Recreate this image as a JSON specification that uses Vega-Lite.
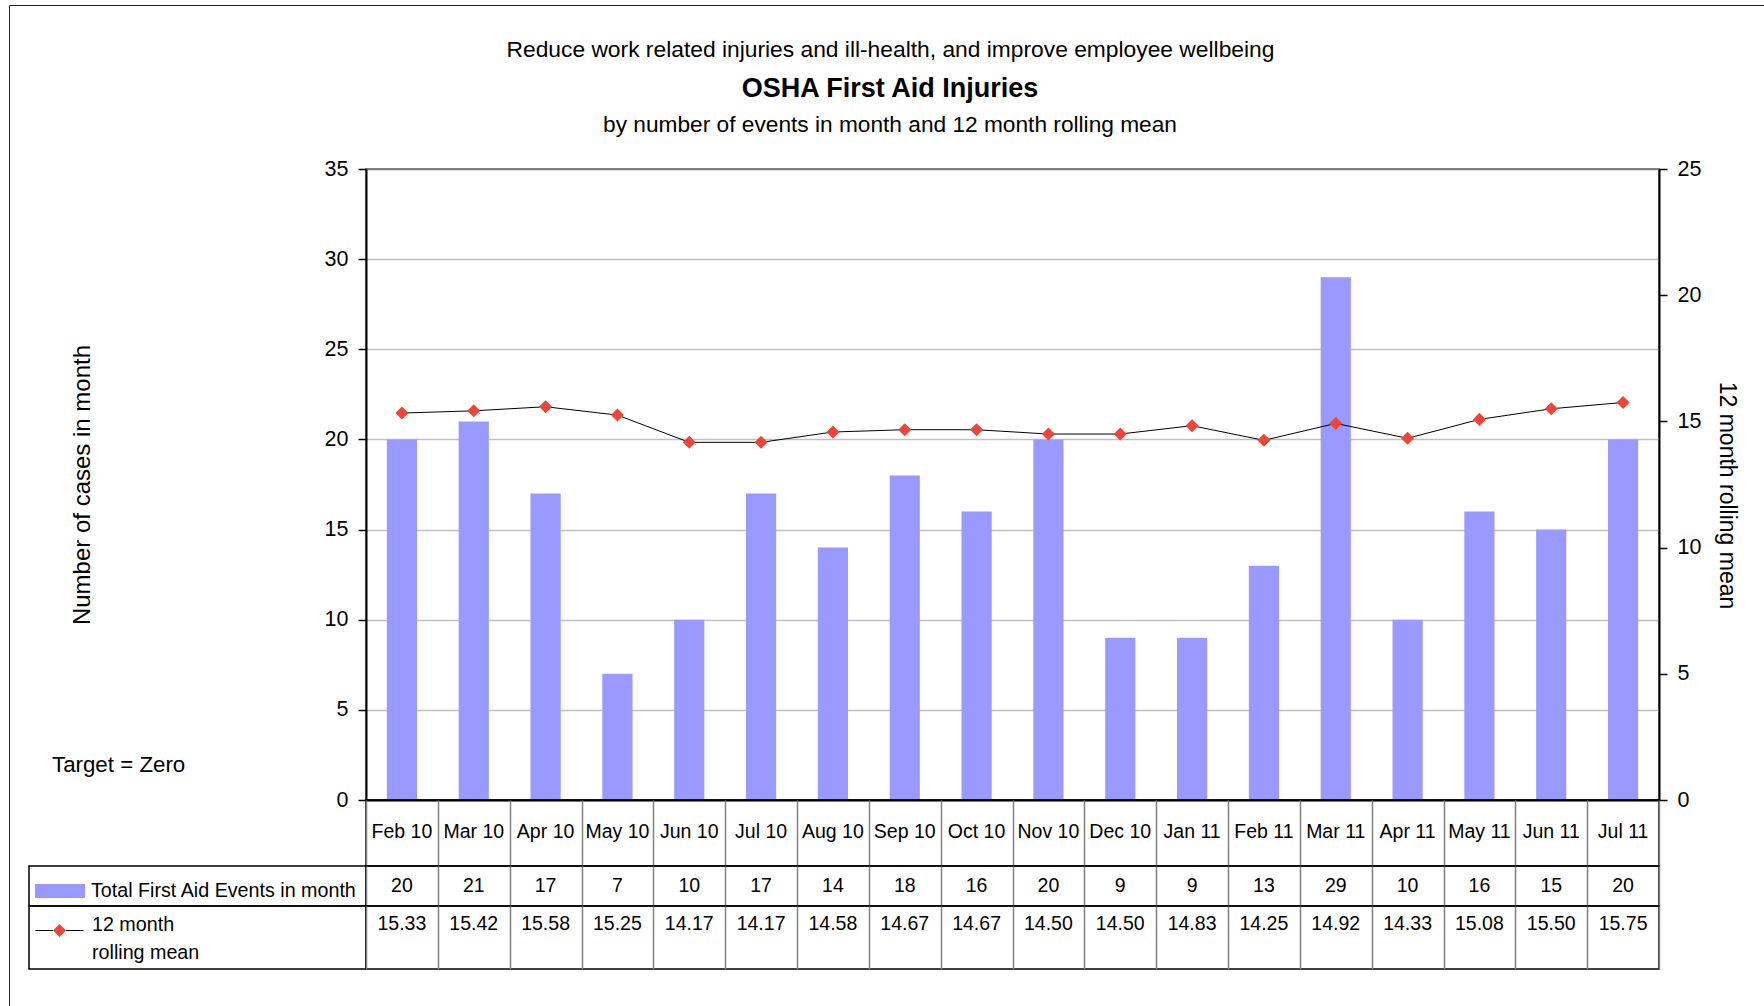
{
  "$schema": "https://vega.github.io/schema/vega-lite/v6.json",
  "background": "white",
  "padding": {"left": 8, "top": 4, "right": 0, "bottom": 0},
  "data": {"values": [
    {"month": "Feb 10", "events": 20, "mean": 15.33},
    {"month": "Mar 10", "events": 21, "mean": 15.42},
    {"month": "Apr 10", "events": 17, "mean": 15.58},
    {"month": "May 10", "events": 7, "mean": 15.25},
    {"month": "Jun 10", "events": 10, "mean": 14.17},
    {"month": "Jul 10", "events": 17, "mean": 14.17},
    {"month": "Aug 10", "events": 14, "mean": 14.58},
    {"month": "Sep 10", "events": 18, "mean": 14.67},
    {"month": "Oct 10", "events": 16, "mean": 14.67},
    {"month": "Nov 10", "events": 20, "mean": 14.50},
    {"month": "Dec 10", "events": 9, "mean": 14.50},
    {"month": "Jan 11", "events": 9, "mean": 14.83},
    {"month": "Feb 11", "events": 13, "mean": 14.25},
    {"month": "Mar 11", "events": 29, "mean": 14.92},
    {"month": "Apr 11", "events": 10, "mean": 14.33},
    {"month": "May 11", "events": 16, "mean": 15.08},
    {"month": "Jun 11", "events": 15, "mean": 15.50},
    {"month": "Jul 11", "events": 20, "mean": 15.75}
  ]},
  "title": {
    "text": "Reduce work related injuries and ill-health, and improve employee wellbeing",
    "fontSize": 22.8, "fontWeight": "normal", "anchor": "start", "frame": "bounds", "offset": -57, "dx": 498
  },
  "columns": 2,
  "spacing": 0,
  "bounds": "flush",
  "concat": [
    {"data": {"values": []}, "width": 337, "height": 631, "mark": "text", "view": {"stroke": null}},
    {
      "width": 1293, "height": 631,
      "view": {"stroke": "#808080", "strokeWidth": 2},
      "title": {
        "text": "OSHA First Aid Injuries",
        "subtitle": "by number of events in month and 12 month rolling mean",
        "fontSize": 27, "fontWeight": "bold",
        "subtitleFontSize": 22.7, "subtitleFontWeight": "normal",
        "anchor": "middle", "frame": "bounds", "offset": 20, "subtitlePadding": 11, "dx": -14
      },
      "encoding": {
        "x": {"field": "month", "type": "nominal", "sort": null,
          "scale": {"paddingInner": 0, "paddingOuter": 0},
          "axis": {"labels": false, "ticks": false, "title": null, "grid": false, "domainColor": "black", "domainWidth": 2, "zindex": 1}}
      },
      "layer": [
        {
          "mark": {"type": "bar", "width": {"band": 0.42}},
          "encoding": {
            "y": {"field": "events", "type": "quantitative",
              "scale": {"domain": [0, 35], "nice": false},
              "axis": {"values": [0, 5, 10, 15, 20, 25, 30, 35], "title": "Number of cases in month",
                "titleFontSize": 24, "titleFontWeight": "normal", "titlePadding": 230,
                "labelFontSize": 21.5, "labelPadding": 10, "tickSize": 8, "tickWidth": 1.5,
                "domainWidth": 2, "grid": true, "gridWidth": 1.5,
                "gridColor": {"condition": {"test": "datum.value == 35", "value": "#808080"}, "value": "#c0c0c0"}}},
            "fill": {"datum": "Total First Aid Events in month", "scale": {"range": ["#9999ff"]},
              "legend": {"title": null, "orient": "none", "legendX": 6, "legendY": 697, "padding": 0,
                "symbolType": "M-1,-0.28H1V0.28H-1Z", "symbolSize": 2500, "symbolStrokeWidth": 0,
                "labelFontSize": 19.7, "labelOffset": 6, "labelLimit": 400}},
            "opacity": {"datum": "frame", "scale": {"range": [1]},
              "legend": {"title": null, "orient": "none", "legendX": -20, "legendY": -164, "padding": 900,
                "strokeColor": "#222222", "fillColor": null,
                "symbolSize": 0, "symbolOpacity": 0, "labelOpacity": 0, "labelFontSize": 10,
                "labelExpr": "''",
                "encode": {"legend": {"update": {"strokeWidth": {"value": 2}}},
                           "symbols": {"update": {"opacity": {"value": 0}}}}}}
          }
        },
        {
          "layer": [
            {
              "mark": {"type": "line", "strokeWidth": 1},
              "encoding": {
                "y": {"field": "mean", "type": "quantitative",
                  "scale": {"domain": [0, 25], "nice": false},
                  "axis": {"orient": "right", "values": [0, 5, 10, 15, 20, 25], "title": "12 month rolling mean",
                    "titleFontSize": 23, "titleFontWeight": "normal", "titlePadding": 14, "titleY": 326,
                    "labelFontSize": 21.5, "labelPadding": 10, "tickSize": 8, "tickWidth": 1.5,
                    "domainWidth": 2, "grid": false}},
                "stroke": {"datum": "12 month rolling mean", "scale": {"range": ["black"]},
                  "legend": {"title": null, "orient": "none", "legendX": 6, "legendY": 737, "padding": 0,
                    "symbolType": "M-1,0H-0.25M0.25,0H1", "symbolSize": 2304, "symbolStrokeWidth": 1,
                    "symbolFillColor": "transparent",
                    "labelExpr": "['12 month', 'rolling mean']", "labelBaseline": "alphabetic",
                    "labelFontSize": 19.7, "labelOffset": 8, "labelLimit": 400,
                    "encode": {"labels": {"update": {"lineHeight": {"value": 28}}}}}}
              }
            },
            {
              "mark": {"type": "point", "shape": "diamond", "filled": true, "size": 170, "opacity": 1},
              "encoding": {
                "y": {"field": "mean", "type": "quantitative"},
                "color": {"datum": "marker", "scale": {"range": ["#f04438"]},
                  "legend": {"title": null, "orient": "none", "legendX": 23.5, "legendY": 754.5, "padding": 0,
                    "symbolType": "diamond", "symbolSize": 170, "symbolStrokeWidth": 0, "symbolOpacity": 1,
                    "labelExpr": "''"}}
              }
            }
          ]
        }
      ],
      "resolve": {"scale": {"y": "independent"}}
    },
    {"data": {"values": []}, "width": 337, "height": 66, "mark": "text", "view": {"stroke": null},
      "title": {"text": "Target = Zero", "anchor": "start", "frame": "group", "fontSize": 22.3, "fontWeight": "normal", "dx": 23, "offset": 24}},
    {
      "width": 1293, "height": 66,
      "view": {"stroke": "black", "strokeWidth": 1.5},
      "mark": {"type": "text", "fontSize": 19.5, "dy": -1.5, "color": "black"},
      "encoding": {
        "x": {"field": "month", "type": "nominal", "sort": null, "scale": {"paddingInner": 0, "paddingOuter": 0},
          "axis": {"orient": "bottom", "labels": false, "ticks": false, "domain": false, "title": null,
            "grid": true, "tickBand": "extent", "gridColor": "#808080", "gridWidth": 1.5}},
        "text": {"field": "month"}
      }
    },
    {"data": {"values": []}, "width": 337, "height": 40, "mark": "text", "view": {"stroke": "black", "strokeWidth": 1.5}},
    {
      "width": 1293, "height": 40,
      "view": {"stroke": "black", "strokeWidth": 1.5},
      "mark": {"type": "text", "fontSize": 19.5, "color": "black"},
      "encoding": {
        "x": {"field": "month", "type": "nominal", "sort": null, "scale": {"paddingInner": 0, "paddingOuter": 0},
          "axis": {"orient": "bottom", "labels": false, "ticks": false, "domain": false, "title": null,
            "grid": true, "tickBand": "extent", "gridColor": "#808080", "gridWidth": 1.5}},
        "text": {"field": "events"}
      }
    },
    {"data": {"values": []}, "width": 337, "height": 63, "mark": "text", "view": {"stroke": "black", "strokeWidth": 1.5}},
    {
      "width": 1293, "height": 63,
      "view": {"stroke": "black", "strokeWidth": 1.5},
      "mark": {"type": "text", "fontSize": 19.5, "dy": -14, "color": "black"},
      "encoding": {
        "x": {"field": "month", "type": "nominal", "sort": null, "scale": {"paddingInner": 0, "paddingOuter": 0},
          "axis": {"orient": "bottom", "labels": false, "ticks": false, "domain": false, "title": null,
            "grid": true, "tickBand": "extent", "gridColor": "#808080", "gridWidth": 1.5}},
        "text": {"field": "mean", "format": ".2f"}
      }
    }
  ],
  "config": {
    "font": "Liberation Sans",
    "view": {"stroke": null},
    "axis": {"labelColor": "black", "titleColor": "black", "domainColor": "black", "tickColor": "black"},
    "legend": {"labelColor": "black"},
    "title": {"color": "black", "subtitleColor": "black"}
  }
}
